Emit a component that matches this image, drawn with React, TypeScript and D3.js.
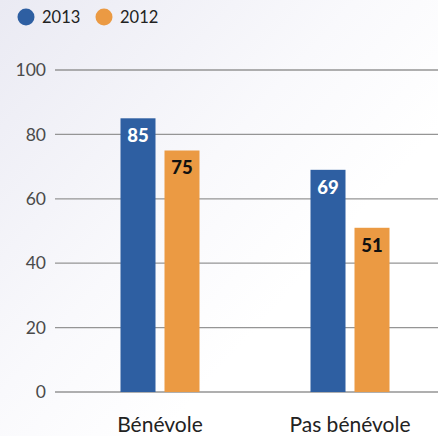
import React from "react";
import * as d3 from "d3";

const categories = ["Bénévole", "Pas bénévole"];
const seriesNames = ["2013", "2012"];
const values2013 = [85, 69];
const values2012 = [75, 51];
const yTicks = [0, 20, 40, 60, 80, 100];

const W = 438;
const H = 436;
const colors = ["#2e5fa2", "#eb9a43"];
const labelColors = ["#ffffff", "#111111"];
const FONT = "Lato, 'Open Sans', sans-serif";

export default function App() {
  const y = d3.scaleLinear().domain([0, 100]).range([392, 70]);
  const x0 = d3.scaleBand<string>().domain(categories).range([65, 445]).paddingInner(0);
  const x1 = d3
    .scaleBand<string>()
    .domain(seriesNames)
    .range([0, 79])
    .paddingInner(9 / 44)
    .paddingOuter(0);
  const seriesValues = [values2013, values2012];

  return (
    <svg
      width={W}
      height={H}
      style={{ position: "absolute", left: 0, top: 0, fontFamily: FONT }}
    >
      <defs>
        <linearGradient id="bg" x1="0" y1="0" x2="1" y2="0.9">
          <stop offset="0" stopColor="#eaeaf3" />
          <stop offset="0.45" stopColor="#f9f9fc" />
          <stop offset="0.7" stopColor="#ffffff" />
        </linearGradient>
      </defs>
      <rect x={0} y={0} width={W} height={H} fill="url(#bg)" />

      {/* legend */}
      {seriesNames.map((s, i) => {
        const lx = 26 + i * 78;
        return (
          <g key={s}>
            <circle cx={lx} cy={17} r={8.5} fill={colors[i]} />
            <text x={lx + 16} y={23} fontSize={16.5} fill="#222">
              {s}
            </text>
          </g>
        );
      })}

      {/* grid + y ticks */}
      {yTicks.map((t) => (
        <g key={t}>
          <line x1={55} x2={W} y1={y(t)} y2={y(t)} stroke="#959595" strokeWidth={1.3} />
          <text
            x={46}
            y={y(t)}
            dy="0.35em"
            textAnchor="end"
            fontSize={17.5}
            fill="#4a4a4a"
          >
            {t}
          </text>
        </g>
      ))}

      {/* bars */}
      {categories.map((c, ci) => {
        const gx = (x0(c) as number) + x0.bandwidth() / 2 - 39.5;
        return (
          <g key={c} transform={`translate(${gx},0)`}>
            {seriesNames.map((s, si) => {
              const v = seriesValues[si][ci];
              const bx = x1(s) as number;
              return (
                <g key={s}>
                  <rect
                    x={bx}
                    y={y(v)}
                    width={x1.bandwidth()}
                    height={y(0) - y(v)}
                    fill={colors[si]}
                  />
                  <text
                    x={bx + x1.bandwidth() / 2}
                    y={y(v) + 17.5}
                    dy="0.35em"
                    textAnchor="middle"
                    fontSize={18.5}
                    fontWeight={900}
                    fill={labelColors[si]}
                  >
                    {v}
                  </text>
                </g>
              );
            })}
          </g>
        );
      })}

      {/* category labels */}
      {categories.map((c) => (
        <text
          key={c}
          x={(x0(c) as number) + x0.bandwidth() / 2}
          y={432}
          textAnchor="middle"
          fontSize={21}
          fill="#222"
        >
          {c}
        </text>
      ))}
    </svg>
  );
}
